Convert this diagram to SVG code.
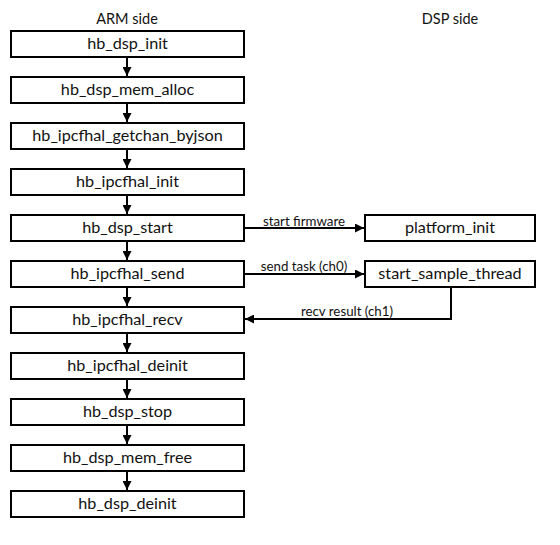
<svg xmlns="http://www.w3.org/2000/svg" width="560" height="545" viewBox="0 0 560 545">
<defs>
<style>
.box{fill:#fff;stroke:#000;stroke-width:2}
.t{font-family:Lato,"Noto Sans",sans-serif;font-size:16.2px;fill:#111;text-anchor:middle}
.h{font-family:Lato,"Noto Sans",sans-serif;font-size:14.5px;fill:#111;text-anchor:middle}
.l{font-family:Lato,"Noto Sans",sans-serif;font-size:13.3px;fill:#111;text-anchor:middle}
.c{fill:none;stroke:#000;stroke-width:2}
</style>
<marker id="ah" viewBox="0 0 10 10" refX="10" refY="5" markerWidth="4.5" markerHeight="4.5" orient="auto" markerUnits="strokeWidth">
<path d="M0,0 L10,5 L0,10 Z" fill="#000"/>
</marker>
</defs>
<rect width="560" height="545" fill="#fff"/>
<text class="h" x="127" y="24">ARM side</text>
<text class="h" x="450" y="24">DSP side</text>
<g id="n1"><rect class="box" x="11" y="31" width="233" height="26"/><text class="t" x="127.5" y="49">hb_dsp_init</text></g>
<g id="n2"><rect class="box" x="11" y="77" width="233" height="26"/><text class="t" x="127.5" y="95">hb_dsp_mem_alloc</text></g>
<g id="n3"><rect class="box" x="11" y="123" width="233" height="26"/><text class="t" x="127.5" y="141">hb_ipcfhal_getchan_byjson</text></g>
<g id="n4"><rect class="box" x="11" y="169" width="233" height="26"/><text class="t" x="127.5" y="187">hb_ipcfhal_init</text></g>
<g id="n5"><rect class="box" x="11" y="215" width="233" height="26"/><text class="t" x="127.5" y="233">hb_dsp_start</text></g>
<g id="n6"><rect class="box" x="11" y="261" width="233" height="26"/><text class="t" x="127.5" y="279">hb_ipcfhal_send</text></g>
<g id="n7"><rect class="box" x="11" y="307" width="233" height="26"/><text class="t" x="127.5" y="325">hb_ipcfhal_recv</text></g>
<g id="n8"><rect class="box" x="11" y="353" width="233" height="26"/><text class="t" x="127.5" y="371">hb_ipcfhal_deinit</text></g>
<g id="n9"><rect class="box" x="11" y="399" width="233" height="26"/><text class="t" x="127.5" y="417">hb_dsp_stop</text></g>
<g id="n10"><rect class="box" x="11" y="445" width="233" height="26"/><text class="t" x="127.5" y="463">hb_dsp_mem_free</text></g>
<g id="n11"><rect class="box" x="11" y="491" width="233" height="26"/><text class="t" x="127.5" y="509">hb_dsp_deinit</text></g>
<g id="d1"><rect class="box" x="365" y="215" width="170" height="26"/><text class="t" x="450" y="233">platform_init</text></g>
<g id="d2"><rect class="box" x="365" y="261" width="170" height="26"/><text class="t" x="450" y="279">start_sample_thread</text></g>
<g id="connectors">
<line class="c" x1="127" y1="57" x2="127" y2="76" marker-end="url(#ah)"/>
<line class="c" x1="127" y1="103" x2="127" y2="122" marker-end="url(#ah)"/>
<line class="c" x1="127" y1="149" x2="127" y2="168" marker-end="url(#ah)"/>
<line class="c" x1="127" y1="195" x2="127" y2="214" marker-end="url(#ah)"/>
<line class="c" x1="127" y1="241" x2="127" y2="260" marker-end="url(#ah)"/>
<line class="c" x1="127" y1="287" x2="127" y2="306" marker-end="url(#ah)"/>
<line class="c" x1="127" y1="333" x2="127" y2="352" marker-end="url(#ah)"/>
<line class="c" x1="127" y1="379" x2="127" y2="398" marker-end="url(#ah)"/>
<line class="c" x1="127" y1="425" x2="127" y2="444" marker-end="url(#ah)"/>
<line class="c" x1="127" y1="471" x2="127" y2="490" marker-end="url(#ah)"/>
<line class="c" x1="244" y1="228" x2="364" y2="228" marker-end="url(#ah)"/>
<line class="c" x1="244" y1="274" x2="364" y2="274" marker-end="url(#ah)"/>
<polyline class="c" points="451,287 451,319 245,319" marker-end="url(#ah)"/>
<text class="l" x="304" y="226">start firmware</text>
<text class="l" x="304" y="271">send task (ch0)</text>
<text class="l" x="347" y="316">recv result (ch1)</text>
</g>
</svg>
